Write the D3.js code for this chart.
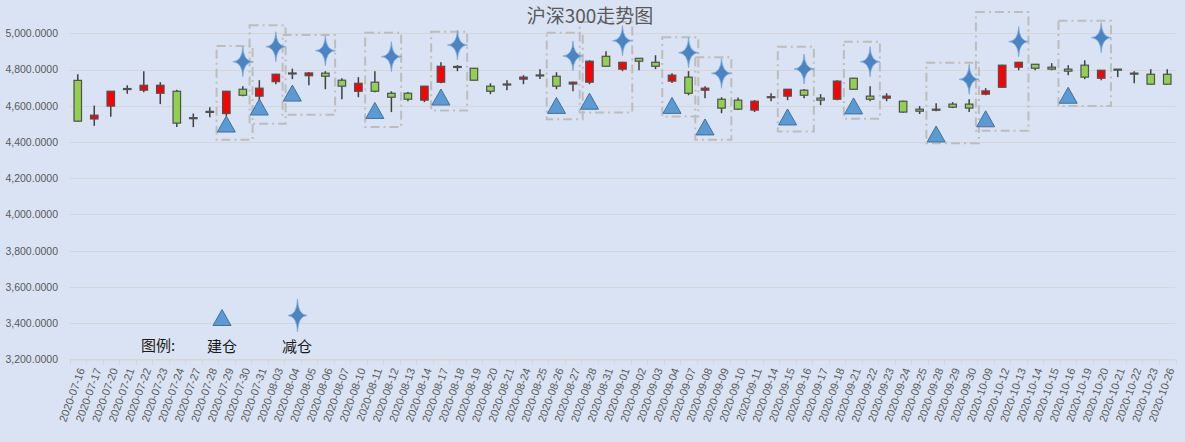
<!DOCTYPE html>
<html>
<head>
<meta charset="utf-8">
<script src="https://cdn.jsdelivr.net/npm/d3@7"></script>
<style>
  html, body { margin: 0; padding: 0; background: #dae3f3; }
  svg { display: block; }
</style>
</head>
<body>
<svg id="chart" width="1185" height="442"></svg>
<script>
// 交易日
const dates = [
  "2020-07-16","2020-07-17","2020-07-20","2020-07-21","2020-07-22","2020-07-23","2020-07-24",
  "2020-07-27","2020-07-28","2020-07-29","2020-07-30","2020-07-31",
  "2020-08-03","2020-08-04","2020-08-05","2020-08-06","2020-08-07",
  "2020-08-10","2020-08-11","2020-08-12","2020-08-13","2020-08-14",
  "2020-08-17","2020-08-18","2020-08-19","2020-08-20","2020-08-21",
  "2020-08-24","2020-08-25","2020-08-26","2020-08-27","2020-08-28",
  "2020-08-31","2020-09-01","2020-09-02","2020-09-03","2020-09-04",
  "2020-09-07","2020-09-08","2020-09-09","2020-09-10","2020-09-11",
  "2020-09-14","2020-09-15","2020-09-16","2020-09-17","2020-09-18",
  "2020-09-21","2020-09-22","2020-09-23","2020-09-24","2020-09-25",
  "2020-09-28","2020-09-29","2020-09-30",
  "2020-10-09","2020-10-12","2020-10-13","2020-10-14","2020-10-15","2020-10-16",
  "2020-10-19","2020-10-20","2020-10-21","2020-10-22","2020-10-23","2020-10-26"
]

// 开 / 高 / 低 / 收
const opens = [
  4740, 4527, 4598, 4692, 4686, 4669, 4680, 4531, 4566, 4557, 4691, 4653,
  4733, 4778, 4766, 4780, 4741, 4680, 4730, 4669, 4669, 4631,
  4730, 4814, 4807, 4708, 4717, 4747, 4767, 4763, 4720, 4730,
  4873, 4802, 4862, 4840, 4736, 4758, 4686, 4636, 4631, 4576,
  4647, 4653, 4686, 4642, 4636, 4752, 4653, 4642, 4625, 4581,
  4578, 4609, 4609, 4664, 4702, 4813, 4829, 4813, 4802,
  4824, 4752, 4802, 4780, 4774, 4774
]
const highs = [
  4774, 4601, 4682, 4713, 4791, 4730, 4688, 4557, 4592, 4682, 4708, 4741,
  4776, 4805, 4787, 4791, 4752, 4758, 4791, 4680, 4676, 4710,
  4840, 4824, 4809, 4724, 4741, 4769, 4802, 4785, 4732, 4851,
  4901, 4842, 4864, 4879, 4780, 4791, 4708, 4647, 4645, 4631,
  4669, 4693, 4693, 4664, 4741, 4754, 4708, 4669, 4628, 4598,
  4614, 4620, 4636, 4697, 4826, 4842, 4831, 4835, 4824,
  4851, 4798, 4803, 4791, 4802, 4802
]
const lows = [
  4512, 4489, 4539, 4666, 4675, 4609, 4482, 4482, 4537, 4544, 4653, 4625,
  4719, 4747, 4713, 4691, 4636, 4647, 4675, 4565, 4625, 4620,
  4724, 4791, 4739, 4664, 4686, 4719, 4747, 4691, 4680, 4719,
  4816, 4791, 4796, 4802, 4726, 4658, 4642, 4559, 4576, 4565,
  4625, 4631, 4642, 4603, 4631, 4689, 4625, 4625, 4562, 4554,
  4570, 4587, 4565, 4658, 4700, 4796, 4796, 4796, 4769,
  4747, 4741, 4758, 4724, 4717, 4717
]
const closes = [
  4515, 4548, 4680, 4695, 4713, 4713, 4504, 4534, 4569, 4680, 4658, 4697,
  4774, 4781, 4781, 4763, 4708, 4724, 4680, 4647, 4636, 4708,
  4818, 4817, 4741, 4680, 4720, 4758, 4770, 4708, 4730, 4846,
  4818, 4840, 4846, 4818, 4769, 4669, 4697, 4587, 4581, 4625,
  4650, 4691, 4658, 4631, 4736, 4691, 4636, 4653, 4565, 4570,
  4581, 4592, 4587, 4682, 4824, 4840, 4807, 4802, 4791,
  4758, 4796, 4800, 4778, 4719, 4719
]

// 建仓 / 减仓 标记
const buyDates = ["2020-07-29","2020-07-31","2020-08-04","2020-08-11","2020-08-17","2020-08-26","2020-08-28",
                  "2020-09-04","2020-09-08","2020-09-15","2020-09-21","2020-09-28","2020-10-09","2020-10-16"]
const buyValues = [4499, 4593, 4670, 4574, 4648, 4602, 4625, 4602, 4483, 4538, 4599, 4444, 4528, 4658]
const sellDates = ["2020-07-30","2020-08-03","2020-08-06","2020-08-12","2020-08-18","2020-08-27","2020-09-01",
                   "2020-09-07","2020-09-09","2020-09-16","2020-09-22","2020-09-30","2020-10-13","2020-10-20"]
const sellValues = [4843, 4926, 4904, 4871, 4935, 4875, 4959, 4893, 4779, 4803, 4843, 4746, 4954, 4976]

// 虚线框：起止日期与上下沿
const boxStart = ["2020-07-29","2020-07-31","2020-08-04","2020-08-11","2020-08-17","2020-08-26","2020-08-28",
                  "2020-09-04","2020-09-08","2020-09-15","2020-09-21","2020-09-28","2020-10-09","2020-10-16"]
const boxEnd   = ["2020-07-30","2020-08-03","2020-08-06","2020-08-12","2020-08-18","2020-08-27","2020-09-01",
                  "2020-09-07","2020-09-09","2020-09-16","2020-09-22","2020-09-30","2020-10-13","2020-10-20"]
const boxHigh  = [4930, 5044, 4991, 5003, 5009, 5003, 5062, 4978, 4868, 4926, 4954, 4838, 5117, 5069]
const boxLow   = [4412, 4500, 4550, 4482, 4574, 4526, 4563, 4540, 4412, 4458, 4528, 4393, 4462, 4599]

const yTicks = [3200, 3400, 3600, 3800, 4000, 4200, 4400, 4600, 4800, 5000]

const width = 1185, height = 442
const margin = { top: 33.3, right: 9.5, bottom: 82.7, left: 69.5 }

const svg = d3.select("#chart")
svg.append("rect").attr("width", width).attr("height", height).attr("fill", "#dae3f3")

const defs = svg.append("defs")
defs.append("filter").attr("id", "soft")
  .attr("x", "-50%").attr("y", "-50%").attr("width", "200%").attr("height", "200%")
  .append("feGaussianBlur").attr("stdDeviation", 0.6)

const x = d3.scaleBand()
  .domain(dates)
  .range([margin.left, width - margin.right])
  .padding(0)

const y = d3.scaleLinear()
  .domain([3200, 5000])
  .range([height - margin.bottom, margin.top])

const cx = d => x(d) + x.bandwidth() / 2

// gridlines
svg.append("g")
  .selectAll("line")
  .data(yTicks)
  .join("line")
  .attr("x1", margin.left)
  .attr("x2", width - margin.right)
  .attr("y1", d => Math.round(y(d)) + 0.5)
  .attr("y2", d => Math.round(y(d)) + 0.5)
  .attr("stroke", "#d3d6db")
  .attr("stroke-width", 1)

// y axis labels
const yAxis = svg.append("g")
  .attr("transform", `translate(${margin.left - 11.5}, 0)`)
  .call(d3.axisLeft(y).tickValues(yTicks).tickFormat(d3.format(",.4f")).tickSize(0).tickPadding(0))
yAxis.select(".domain").remove()
yAxis.selectAll("text")
  .style("font-family", "'Liberation Sans', Arial, sans-serif")
  .attr("font-size", "10.5px")
  .attr("fill", "#595959")

// x axis
const baseY = Math.round(y(3200)) + 0.5
const xAxis = svg.append("g")
  .attr("transform", `translate(0, ${baseY})`)
  .call(d3.axisBottom(x).tickSize(0).tickSizeOuter(0))
xAxis.select(".domain").attr("stroke", "#d3d6db")
xAxis.selectAll("text")
  .style("font-family", "'Liberation Sans', Arial, sans-serif")
  .attr("font-size", "11px")
  .attr("fill", "#595959")
  .attr("text-anchor", "end")
  .attr("dx", "0")
  .attr("dy", "0.35em")
  .attr("transform", "translate(1, 8) rotate(-70)")

// category boundary tick marks
svg.append("g")
  .selectAll("line")
  .data(dates.concat([null]))
  .join("line")
  .attr("x1", (d, i) => Math.round(margin.left + i * x.bandwidth()) + 0.5)
  .attr("x2", (d, i) => Math.round(margin.left + i * x.bandwidth()) + 0.5)
  .attr("y1", baseY)
  .attr("y2", baseY + 5)
  .attr("stroke", "#d3d6db")

// candles
const candles = dates.map((d, i) => ({ date: d, o: opens[i], h: highs[i], l: lows[i], c: closes[i] }))
const bodyW = 7.5

const cg = svg.append("g").attr("class", "candles")
const candle = cg.selectAll("g")
  .data(candles)
  .join("g")

candle.append("line")
  .attr("x1", d => cx(d.date))
  .attr("x2", d => cx(d.date))
  .attr("y1", d => y(d.h))
  .attr("y2", d => y(d.l))
  .attr("stroke", "#404040")
  .attr("stroke-width", 1.5)

candle.append("rect")
  .attr("x", d => cx(d.date) - bodyW / 2)
  .attr("width", bodyW)
  .attr("y", d => y(Math.max(d.o, d.c)))
  .attr("height", d => Math.max(1, Math.abs(y(d.o) - y(d.c))))
  .attr("fill", d => d.c >= d.o ? "#ff0000" : "#92d050")
  .attr("stroke", "#505050")
  .attr("stroke-width", 1.2)

// dashed boxes
const boxes = boxStart.map((s, i) => ({ s, e: boxEnd[i], hi: boxHigh[i], lo: boxLow[i] }))
svg.append("g")
  .selectAll("rect")
  .data(boxes)
  .join("rect")
  .attr("x", d => x(d.s) - 1.5)
  .attr("width", d => x(d.e) + x.bandwidth() - x(d.s) + 3)
  .attr("y", d => y(d.hi))
  .attr("height", d => y(d.lo) - y(d.hi))
  .attr("fill", "none")
  .attr("stroke", "#bdbdbd")
  .attr("stroke-width", 2)
  .attr("stroke-dasharray", "9,4,2,4")

// shapes
const triPath = (w, h) => `M0,${-h / 2}L${w / 2},${h / 2}L${-w / 2},${h / 2}Z`
const starPath = (w, h) => {
  const a = w / 2, b = h / 2, k = 0.6
  return `M0,${-b}Q${k},${-k} ${a},0Q${k},${k} 0,${b}Q${-k},${k} ${-a},0Q${-k},${-k} 0,${-b}Z`
}

const buys = buyDates.map((d, i) => ({ date: d, v: buyValues[i] }))
const sells = sellDates.map((d, i) => ({ date: d, v: sellValues[i] }))

function drawTri(sel) {
  sel.attr("d", triPath(18, 16))
    .attr("fill", "#5b9bd5")
    .attr("stroke", "#41719c")
    .attr("stroke-width", 1)
}
function drawStar(sel, w, h) {
  sel.attr("d", starPath(w, h))
    .attr("fill", "#4a84c4")
    .attr("stroke", "#7ba7d9")
    .attr("stroke-width", 0.8)
    .attr("filter", "url(#soft)")
}

svg.append("g")
  .selectAll("path")
  .data(buys)
  .join("path")
  .attr("transform", d => `translate(${cx(d.date)}, ${y(d.v)})`)
  .call(drawTri)

svg.append("g")
  .selectAll("path")
  .data(sells)
  .join("path")
  .attr("transform", d => `translate(${cx(d.date)}, ${y(d.v)})`)
  .call(drawStar, 20, 30)

// title
svg.append("text")
  .attr("x", 590)
  .attr("y", 23)
  .attr("text-anchor", "middle")
  .style("font-family", "'Noto Sans CJK SC', sans-serif")
  .attr("font-size", "19px")
  .attr("fill", "#595959")
  .text("沪深300走势图")

// legend
const legend = svg.append("g").style("font-family", "'Noto Sans CJK SC', sans-serif")
  .attr("font-size", "15px").attr("fill", "#1a1a1a")
legend.append("text").attr("x", 141).attr("y", 351).text("图例:")
legend.append("path").attr("transform", "translate(222, 317.5)").call(drawTri)
legend.append("text").attr("x", 222).attr("y", 352).attr("text-anchor", "middle").text("建仓")
legend.append("path").attr("transform", "translate(297.5, 315.5)").call(drawStar, 19, 33)
legend.append("text").attr("x", 297).attr("y", 352).attr("text-anchor", "middle").text("减仓")
</script>
</body>
</html>
